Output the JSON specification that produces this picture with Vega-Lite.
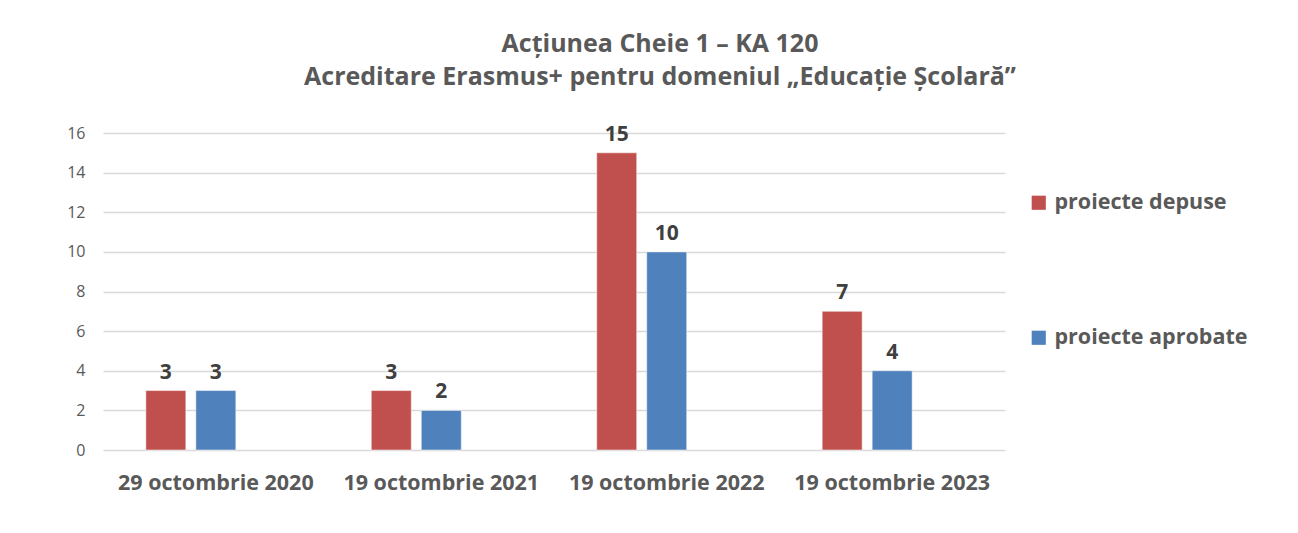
{
  "$schema": "https://vega.github.io/schema/vega-lite/v6.json",
  "width": 902,
  "height": 317,
  "autosize": "none",
  "padding": {"left": 103, "top": 133, "right": 293, "bottom": 83},
  "background": "white",
  "title": {
    "text": ["Acțiunea Cheie 1 – KA 120", "Acreditare Erasmus+ pentru domeniul „Educație Școlară”"],
    "font": "Open Sans",
    "fontSize": 25,
    "fontWeight": "bold",
    "color": "#595959",
    "lineHeight": 33,
    "anchor": "middle",
    "dx": 106,
    "offset": 34
  },
  "data": {
    "values": [
      {"data": "29 octombrie 2020", "serie": "proiecte depuse", "valoare": 3},
      {"data": "29 octombrie 2020", "serie": "proiecte aprobate", "valoare": 3},
      {"data": "19 octombrie 2021", "serie": "proiecte depuse", "valoare": 3},
      {"data": "19 octombrie 2021", "serie": "proiecte aprobate", "valoare": 2},
      {"data": "19 octombrie 2022", "serie": "proiecte depuse", "valoare": 15},
      {"data": "19 octombrie 2022", "serie": "proiecte aprobate", "valoare": 10},
      {"data": "19 octombrie 2023", "serie": "proiecte depuse", "valoare": 7},
      {"data": "19 octombrie 2023", "serie": "proiecte aprobate", "valoare": 4}
    ]
  },
  "encoding": {
    "x": {
      "field": "data",
      "type": "nominal",
      "sort": null,
      "scale": {"paddingInner": 0.379, "paddingOuter": 0.19},
      "axis": {
        "title": null,
        "labelAngle": 0,
        "labelFont": "Open Sans",
        "labelFontSize": 21.5,
        "labelFontWeight": "bold",
        "labelColor": "#595959",
        "labelPadding": 22,
        "labelLimit": 0,
        "labelOverlap": false,
        "ticks": false,
        "domain": false,
        "grid": false
      }
    },
    "xOffset": {
      "field": "serie",
      "type": "nominal",
      "scale": {"domain": ["proiecte depuse", "proiecte aprobate", "_"], "paddingInner": 0.2, "paddingOuter": 0}
    },
    "y": {
      "field": "valoare",
      "type": "quantitative",
      "scale": {"domain": [0, 16]},
      "axis": {
        "title": null,
        "values": [0, 2, 4, 6, 8, 10, 12, 14, 16],
        "labelFont": "Open Sans",
        "labelFontSize": 16,
        "labelColor": "#595959",
        "labelPadding": 18,
        "ticks": false,
        "domain": false,
        "grid": true,
        "gridColor": "#d9d9d9",
        "gridWidth": 1.5
      }
    }
  },
  "layer": [
    {
      "mark": {"type": "bar", "stroke": "white", "strokeWidth": 0.5},
      "encoding": {
        "color": {
          "field": "serie",
          "type": "nominal",
          "scale": {"domain": ["proiecte depuse", "proiecte aprobate"], "range": ["#C0504D", "#4F81BD"]},
          "legend": {
            "title": null,
            "orient": "none",
            "legendX": 925,
            "legendY": 59,
            "symbolType": "square",
            "symbolSize": 200,
            "symbolStrokeWidth": 0,
            "labelFont": "Open Sans",
            "labelFontSize": 21.5,
            "labelFontWeight": "bold",
            "labelColor": "#595959",
            "labelOffset": 5,
            "labelLimit": 0,
            "rowPadding": 112
          }
        }
      }
    },
    {
      "mark": {"type": "text", "dy": -18, "font": "Open Sans", "fontSize": 21, "fontWeight": "bold", "color": "#404040"},
      "encoding": {"text": {"field": "valoare", "type": "quantitative"}}
    }
  ],
  "config": {"view": {"stroke": null}}
}
